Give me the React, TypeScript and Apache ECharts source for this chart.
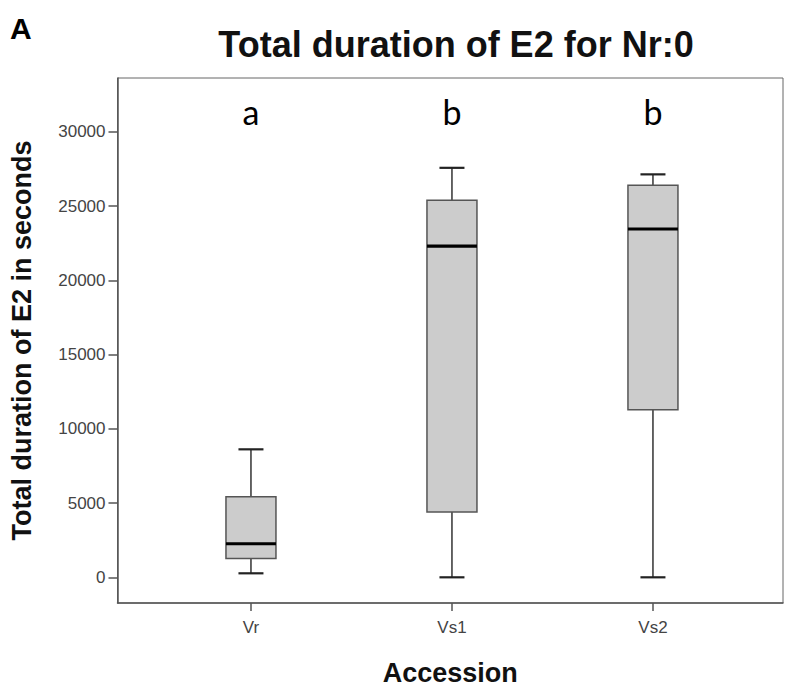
import React, { useEffect, useRef } from "react";
import * as echarts from "echarts";

const categories = ["Vr", "Vs1", "Vs2"];
const whiskerLow = [270, 0, 0];
const q1 = [1260, 4400, 11280];
const median = [2260, 22300, 23460];
const q3 = [5430, 25400, 26400];
const whiskerHigh = [8620, 27580, 27140];
const letters = ["a", "b", "b"];
const letterLevel = 31400;
const yTicks = [0, 5000, 10000, 15000, 20000, 25000, 30000];
const xPositions = [1, 2, 3];

export default function App() {
  const ref = useRef<HTMLDivElement>(null);
  useEffect(() => {
    if (!ref.current) return;
    const chart = echarts.init(ref.current, null, { renderer: "svg" });
    const boxData = categories.map((_, i) => [
      xPositions[i],
      whiskerLow[i],
      q1[i],
      median[i],
      q3[i],
      whiskerHigh[i],
    ]);
    const letterData = categories.map((_, i) => [xPositions[i], letterLevel, i]);
    const option: any = {
      animation: false,
      backgroundColor: "#ffffff",
      title: {
        text: "Total duration of E2 for Nr:0",
        left: 451,
        top: 21,
        textAlign: "center",
        textStyle: {
          fontSize: 36,
          fontWeight: "bold",
          fontFamily: "Liberation Sans",
          color: "#111",
        },
      },
      graphic: [
        {
          type: "text",
          left: 10,
          top: 13,
          style: {
            text: "A",
            font: "bold 30px 'Liberation Sans'",
            fill: "#000",
          },
        },
      ],
      grid: {
        left: 117.5,
        right: 2,
        top: 78,
        bottom: 80,
        show: true,
        borderColor: "#666",
        borderWidth: 1,
        backgroundColor: "transparent",
      },
      xAxis: {
        type: "value",
        min: 0.336,
        max: 3.647,
        name: "Accession",
        nameLocation: "middle",
        nameGap: 56,
        nameTextStyle: {
          fontSize: 27,
          fontWeight: "bold",
          fontFamily: "Liberation Sans",
          color: "#111",
          verticalAlign: "top",
        },
        axisLine: { show: true, onZero: false, lineStyle: { color: "#555", width: 1.5 } },
        axisTick: {
          show: true,
          length: 8,
          customValues: xPositions,
          lineStyle: { color: "#555", width: 1.5 },
        },
        axisLabel: {
          customValues: xPositions,
          formatter: (v: number) => categories[Math.round(v) - 1] ?? "",
          fontSize: 17,
          fontFamily: "Liberation Sans",
          color: "#444",
          margin: 16,
        },
        splitLine: { show: false },
      },
      yAxis: {
        type: "value",
        min: -1730,
        max: 33630,
        name: "Total duration of E2 in seconds",
        nameLocation: "middle",
        nameGap: 82,
        nameRotate: 90,
        nameTextStyle: {
          fontSize: 27,
          fontWeight: "bold",
          fontFamily: "Liberation Sans",
          color: "#111",
        },
        axisLine: { show: true, onZero: false, lineStyle: { color: "#555", width: 1.5 } },
        axisTick: {
          show: true,
          length: 9,
          customValues: yTicks,
          lineStyle: { color: "#555", width: 1.5 },
        },
        axisLabel: {
          customValues: yTicks,
          formatter: (v: number) => String(v),
          fontSize: 17,
          fontFamily: "Liberation Sans",
          color: "#444",
          margin: 12,
        },
        splitLine: { show: false },
      },
      series: [
        {
          type: "custom",
          data: boxData,
          encode: { x: 0, y: [1, 2, 3, 4, 5] },
          renderItem: (params: any, api: any) => {
            const x = api.value(0);
            const pLow = api.coord([x, api.value(1)]);
            const pQ1 = api.coord([x, api.value(2)]);
            const pMed = api.coord([x, api.value(3)]);
            const pQ3 = api.coord([x, api.value(4)]);
            const pHigh = api.coord([x, api.value(5)]);
            const cx = pMed[0];
            const halfBox = 25;
            const halfCap = 12.5;
            const lineStyle = { stroke: "#333", lineWidth: 1.5 };
            return {
              type: "group",
              children: [
                { type: "line", shape: { x1: cx, y1: pHigh[1], x2: cx, y2: pQ3[1] }, style: lineStyle },
                { type: "line", shape: { x1: cx, y1: pQ1[1], x2: cx, y2: pLow[1] }, style: lineStyle },
                { type: "line", shape: { x1: cx - halfCap, y1: pHigh[1], x2: cx + halfCap, y2: pHigh[1] }, style: { stroke: "#222", lineWidth: 2.2 } },
                { type: "line", shape: { x1: cx - halfCap, y1: pLow[1], x2: cx + halfCap, y2: pLow[1] }, style: { stroke: "#222", lineWidth: 2.2 } },
                {
                  type: "rect",
                  shape: { x: cx - halfBox, y: pQ3[1], width: halfBox * 2, height: pQ1[1] - pQ3[1] },
                  style: { fill: "#cccccc", stroke: "#555", lineWidth: 1.5 },
                },
                { type: "line", shape: { x1: cx - halfBox, y1: pMed[1], x2: cx + halfBox, y2: pMed[1] }, style: { stroke: "#000", lineWidth: 3.2 } },
              ],
            };
          },
        },
        {
          type: "custom",
          data: letterData,
          encode: { x: 0, y: 1 },
          renderItem: (params: any, api: any) => {
            const p = api.coord([api.value(0), api.value(1)]);
            return {
              type: "text",
              x: p[0],
              y: p[1],
              style: {
                text: letters[api.value(2)],
                font: "34px Lato",
                fill: "#000",
                textAlign: "center",
                textVerticalAlign: "middle",
              },
            };
          },
        },
      ],
    };
    chart.setOption(option);
    return () => chart.dispose();
  }, []);
  return (
    <div
      ref={ref}
      style={{ position: "fixed", left: 0, top: 0, width: 785, height: 691 }}
    />
  );
}
